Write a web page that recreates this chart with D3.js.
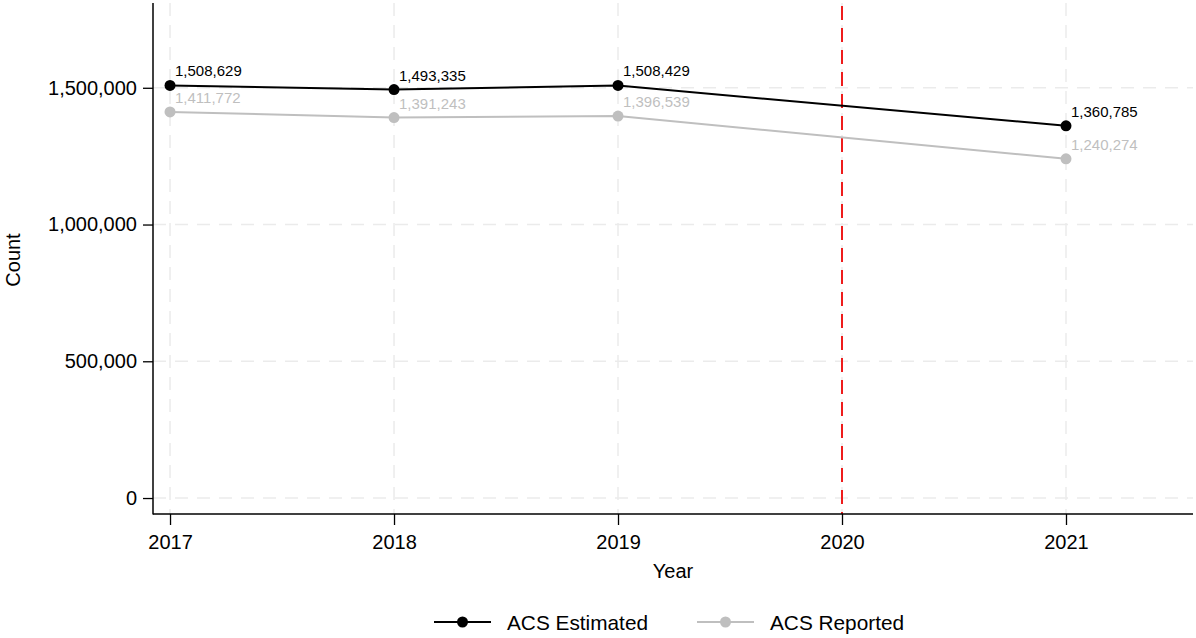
<!DOCTYPE html>
<html><head><meta charset="utf-8">
<script src="https://cdn.jsdelivr.net/npm/d3@7"></script>
<style>body{margin:0;background:#fff;} svg{display:block;font-family:"Liberation Sans",Arial,sans-serif;}</style>
</head><body><svg id="c" width="1196" height="638"></svg>
<script>
const years = [2017, 2018, 2019, 2021];
const estimated = [1508629, 1493335, 1508429, 1360785];
const reported = [1411772, 1391243, 1396539, 1240274];
const xTicks = [2017, 2018, 2019, 2020, 2021];
const yTicks = [0, 500000, 1000000, 1500000];
const seriesNames = ["ACS Estimated", "ACS Reported"];
const seriesColors = ["#000000", "#bfbfbf"];
const markerYear = 2020;

const svg = d3.select("#c");
const L = 153, R = 1193, T = 3, B = 514;
const x = d3.scaleLinear().domain([2016.924, 2021.567]).range([L, R]);
const y = d3.scaleLinear().domain([-58394, 1810000]).range([B, T]);
const fmt = d3.format(",");
const grid = "#ebebeb";

// grids
svg.append("g").selectAll("line").data(yTicks).join("line")
  .attr("x1", L).attr("x2", R).attr("y1", d => y(d)).attr("y2", d => y(d))
  .attr("stroke", grid).attr("stroke-width", 1.5).attr("stroke-dasharray", "13,9");
svg.append("g").selectAll("line").data(xTicks).join("line")
  .attr("x1", d => x(d)).attr("x2", d => x(d)).attr("y1", T).attr("y2", B)
  .attr("stroke", grid).attr("stroke-width", 1.5).attr("stroke-dasharray", "13,9");

// red reference line
svg.append("line").attr("x1", x(markerYear)).attr("x2", x(markerYear))
  .attr("y1", 6).attr("y2", B).attr("stroke", "#ee1c1c").attr("stroke-width", 2)
  .attr("stroke-dasharray", "14,8");

// axes
const yAxis = svg.append("g").attr("transform", `translate(${L},0)`)
  .call(d3.axisLeft(y).tickValues(yTicks).tickFormat(fmt).tickSize(10).tickPadding(6));
const xAxis = svg.append("g").attr("transform", `translate(0,${B})`)
  .call(d3.axisBottom(x).tickValues(xTicks).tickFormat(d3.format("d")).tickSize(11).tickPadding(6));
[yAxis, xAxis].forEach(a => {
  a.select(".domain").remove();
  a.selectAll("line").attr("stroke", "#000").attr("stroke-width", 1.3);
  a.selectAll("text").attr("font-size", "20px").attr("fill", "#000")
    .attr("font-family", '"Liberation Sans",Arial,sans-serif');
});
xAxis.selectAll("text").attr("dy", "0.9em");
svg.append("line").attr("x1", L).attr("x2", L).attr("y1", T).attr("y2", B + 0.5).attr("stroke", "#000").attr("stroke-width", 1.5);
svg.append("line").attr("x1", L).attr("x2", R).attr("y1", B).attr("y2", B).attr("stroke", "#000").attr("stroke-width", 1.5);

// axis titles
svg.append("text").attr("x", 673).attr("y", 578).attr("text-anchor", "middle")
  .attr("font-size", "20px").text("Year");
svg.append("text").attr("transform", "translate(20,260) rotate(-90)").attr("text-anchor", "middle")
  .attr("font-size", "20px").text("Count");

// series
const allSeries = [estimated, reported];
[1, 0].forEach(i => {
  const vals = allSeries[i];
  const pts = years.map((yr, j) => ({yr, v: vals[j]}));
  const g = svg.append("g");
  g.append("path").datum(pts)
    .attr("d", d3.line().x(d => x(d.yr)).y(d => y(d.v)))
    .attr("fill", "none").attr("stroke", seriesColors[i]).attr("stroke-width", 2);
  g.selectAll("circle").data(pts).join("circle")
    .attr("cx", d => x(d.yr)).attr("cy", d => y(d.v)).attr("r", 5.5)
    .attr("fill", seriesColors[i]);
  g.selectAll("text").data(pts).join("text")
    .attr("x", d => x(d.yr) + 5).attr("y", d => y(d.v) - 9)
    .attr("font-size", "15px").attr("fill", seriesColors[i])
    .text(d => fmt(d.v));
});

// legend
const legX = [434, 697];
seriesNames.forEach((name, i) => {
  const g = svg.append("g");
  g.append("line").attr("x1", legX[i]).attr("x2", legX[i] + 57).attr("y1", 622).attr("y2", 622)
    .attr("stroke", seriesColors[i]).attr("stroke-width", 2);
  g.append("circle").attr("cx", legX[i] + 28.5).attr("cy", 622).attr("r", 5.5).attr("fill", seriesColors[i]);
  g.append("text").attr("x", legX[i] + 73).attr("y", 629.5).attr("font-size", "20.8px").attr("fill", "#000").text(name);
});
</script></body></html>
